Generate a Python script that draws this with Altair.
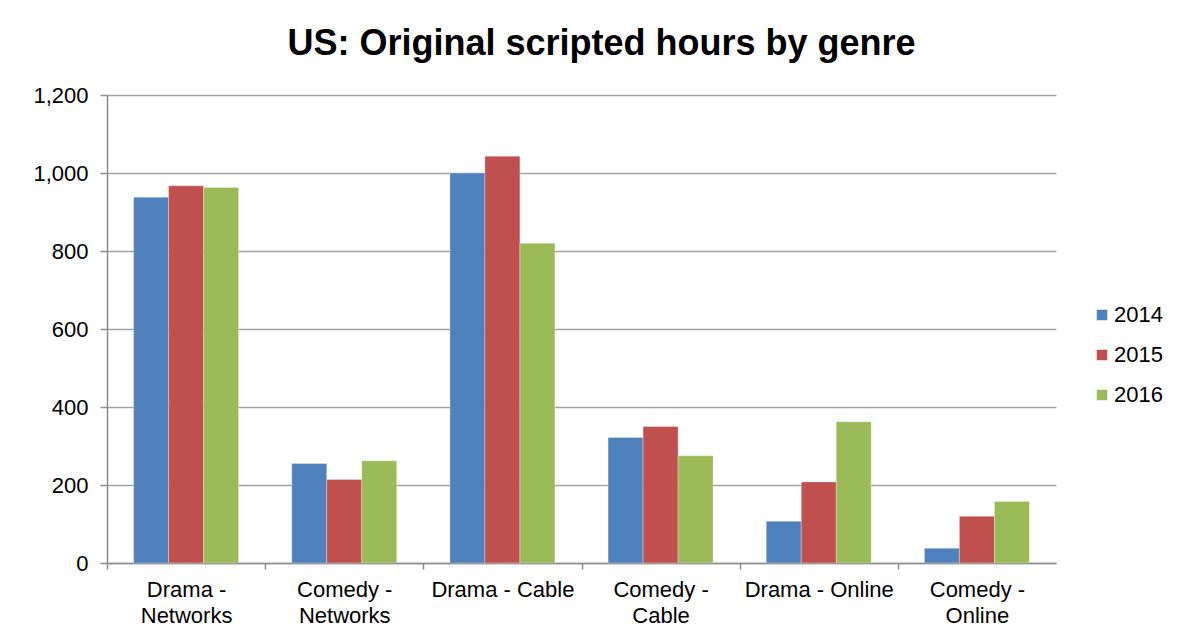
import altair as alt
import pandas as pd

categories = ["Drama - Networks", "Comedy - Networks", "Drama - Cable",
              "Comedy - Cable", "Drama - Online", "Comedy - Online"]
years = ["2014", "2015", "2016"]
hours_2014 = [938, 255, 1000, 322, 107, 38]
hours_2015 = [967, 214, 1043, 350, 208, 120]
hours_2016 = [963, 262, 820, 275, 362, 158]
colors = ["#4F81BD", "#C0504D", "#9BBB59"]
y_ticks = [0, 200, 400, 600, 800, 1000, 1200]

rows = []
for yr, vals in zip(years, [hours_2014, hours_2015, hours_2016]):
    for c, v in zip(categories, vals):
        rows.append({"genre": c, "year": yr, "hours": v})
df = pd.DataFrame(rows)

label_expr = (
    "{'Drama - Networks': ['Drama -', 'Networks'],"
    " 'Comedy - Networks': ['Comedy -', 'Networks'],"
    " 'Drama - Cable': 'Drama - Cable',"
    " 'Comedy - Cable': ['Comedy -', 'Cable'],"
    " 'Drama - Online': 'Drama - Online',"
    " 'Comedy - Online': ['Comedy -', 'Online']}[datum.value]"
)

W = 949
H = 468
half_band = W / len(categories) / 2
FONT = "Liberation Sans"

chart = alt.Chart(df).mark_bar(stroke="white", strokeWidth=0.5, strokeOpacity=0.6).encode(
    x=alt.X("genre:N", sort=categories, title=None,
            scale=alt.Scale(paddingInner=0, paddingOuter=0),
            axis=alt.Axis(labelAngle=0, labelExpr=label_expr,
                          tickOffset=-half_band, labelOffset=half_band,
                          labelFontSize=22, labelFont=FONT,
                          labelColor="#000000", labelLineHeight=26,
                          labelPadding=10, tickSize=6, tickColor="#8c8c8c",
                          domainColor="#8c8c8c", domainWidth=1.5,
                          tickWidth=1.5, labelBaseline="top")),
    xOffset=alt.XOffset("year:N", sort=years,
                        scale=alt.Scale(paddingInner=0, paddingOuter=0.76)),
    y=alt.Y("hours:Q", title=None,
            scale=alt.Scale(domain=[0, 1200], nice=False),
            axis=alt.Axis(values=y_ticks, format=",d", labelFontSize=22,
                          labelFont=FONT, labelColor="#000000",
                          tickSize=7, tickColor="#8c8c8c", tickWidth=1.5,
                          domainColor="#8c8c8c", domainWidth=1.5,
                          gridColor="#a3a3a3", gridWidth=1.5, labelPadding=12)),
    color=alt.Color("year:N", sort=years,
                    scale=alt.Scale(domain=years, range=colors),
                    legend=alt.Legend(title=None, orient="none", legendX=984,
                                      legendY=209, symbolType="square",
                                      symbolSize=110, symbolStrokeWidth=0,
                                      labelFontSize=22, labelFont=FONT,
                                      labelColor="#000000", rowPadding=18,
                                      labelOffset=1)),
).properties(
    width=W,
    height=H,
    title=alt.TitleParams("US: Original scripted hours by genre",
                          fontSize=36, font=FONT, fontWeight="bold",
                          color="#000000", offset=21, dx=20, anchor="middle"),
    autosize=alt.AutoSizeParams(type="none"),
    padding={"left": 99, "top": 87, "right": 120, "bottom": 66},
).configure_view(stroke=None)

chart.save("out.html", embed_options={"renderer": "svg", "actions": False})
